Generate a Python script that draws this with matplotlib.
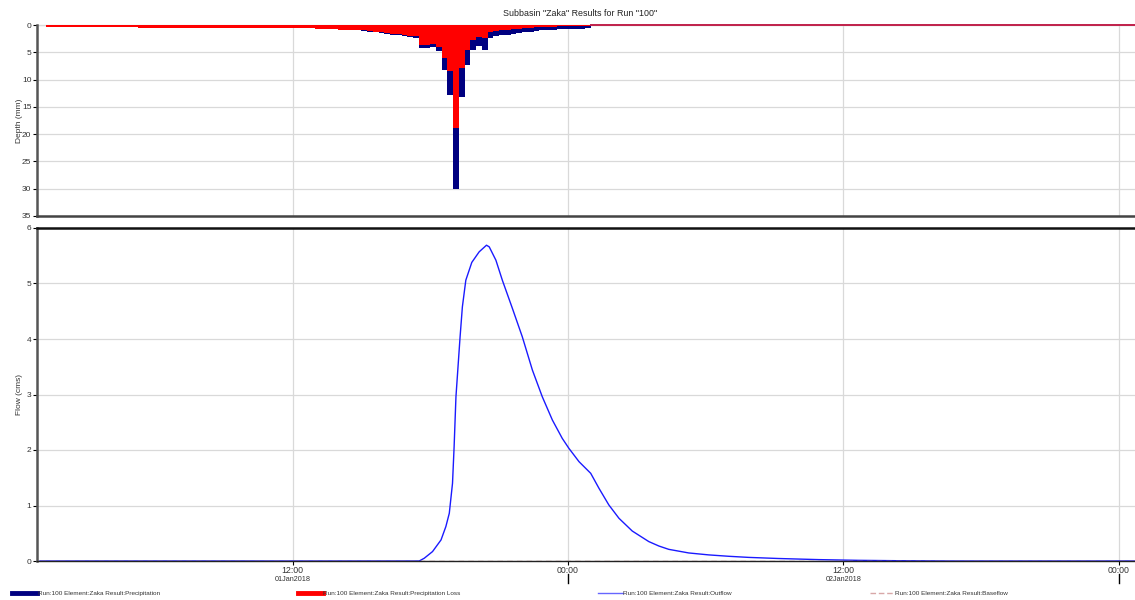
"""Subbasin hyetograph and hydrograph, HEC-HMS style."""

import matplotlib

matplotlib.use("Agg")
import matplotlib.pyplot as plt
from matplotlib.lines import Line2D
from matplotlib.transforms import blended_transform_factory

plt.rcParams["font.family"] = ["Liberation Sans", "DejaVu Sans"]

# time axis in hours since 01Jan2018 00:00
x_start = 0.87
x_end = 48.7
step = 0.25
bar_start = 1.25

precipitation = (
    [0.40] * 16 + [0.48] * 8 + [0.50] * 8 + [0.55] * 8 + [0.60] * 7
    + [0.72, 0.75, 0.78, 0.82, 0.85, 0.88]
    + [0.95, 1.0, 1.1, 1.2, 1.3, 1.5]
    + [1.65, 1.75, 1.9, 2.0, 2.2, 2.3]
    + [4.2, 4.3, 4.0, 4.8, 8.2, 12.8, 30.0, 13.2, 7.3, 4.6, 3.9, 4.5]
    + [2.4, 2.1, 1.9, 1.75, 1.6, 1.45, 1.35, 1.25, 1.1, 0.95, 0.9,
       0.85, 0.8, 0.75, 0.72, 0.7, 0.65, 0.55]
)
precipitation_loss = (
    [0.40] * 16 + [0.48] * 8 + [0.50] * 8 + [0.55] * 8 + [0.60] * 7
    + [0.72, 0.75, 0.78, 0.82, 0.85, 0.88]
    + [0.9, 0.95, 1.0, 1.1, 1.2, 1.35]
    + [1.5, 1.6, 1.7, 1.8, 1.95, 2.05]
    + [3.6, 3.6, 3.4, 4.0, 6.0, 8.5, 18.9, 7.9, 4.5, 2.8, 2.2, 2.3]
    + [1.3, 1.1, 0.95, 0.85, 0.75, 0.65, 0.6, 0.52, 0.45, 0.4, 0.35,
       0.3, 0.27, 0.24, 0.2, 0.18, 0.15, 0.12]
)
bar_times = [bar_start + step * i for i in range(len(precipitation))]

outflow_hours = [
    1.0, 16.65, 17.52, 17.74, 18.10, 18.47, 18.68, 18.83, 18.97, 19.04,
    19.12, 19.19, 19.30, 19.40, 19.55, 19.81, 20.13, 20.45, 20.57, 20.86,
    21.14, 21.58, 22.01, 22.45, 22.88, 23.32, 23.75, 24.04, 24.48, 24.99,
    25.35, 25.78, 26.22, 26.80, 27.52, 27.96, 28.39, 29.26, 30.13, 31.0,
    31.87, 33.17, 34.91, 36.65, 38.4, 40.6, 49.0,
]
outflow_cms = [
    0.0, 0.0, 0.0, 0.05, 0.17, 0.38, 0.62, 0.86, 1.40, 2.06,
    2.96, 3.38, 4.04, 4.58, 5.06, 5.38, 5.57, 5.69, 5.66, 5.42,
    5.06, 4.55, 4.04, 3.44, 2.96, 2.54, 2.21, 2.03, 1.79, 1.58,
    1.31, 1.01, 0.77, 0.54, 0.35, 0.27, 0.21, 0.145, 0.11, 0.085,
    0.065, 0.045, 0.025, 0.012, 0.005, 0.0, 0.0,
]
baseflow_hours = [1.0, 49.0]
baseflow_cms = [0.0, 0.0]

xtick_hours = [12, 24, 36, 48]
xtick_labels = ["12:00", "00:00", "12:00", "00:00"]
date_hours = [12, 36]
date_labels = ["01Jan2018", "02Jan2018"]
day_hours = [24, 48]

labels = [
    "Run:100 Element:Zaka Result:Precipitation",
    "Run:100 Element:Zaka Result:Precipitation Loss",
    "Run:100 Element:Zaka Result:Outflow",
    "Run:100 Element:Zaka Result:Baseflow",
]

NAVY = "#000080"
RED = "#ff0000"
BLUE = "#1a1aff"
BASE = "#c98f8f"
GRID = "#d9d9d9"
TEXT = "#333333"

fig = plt.figure(figsize=(11.35, 6.0), dpi=100)
ax_top = fig.add_axes([0.0326, 0.64, 0.9674, 0.3183])
ax_bot = fig.add_axes([0.0326, 0.065, 0.9674, 0.555])

# hyetograph
ax_top.bar(bar_times, precipitation, width=step, align="edge", color=NAVY, linewidth=0)
ax_top.bar(bar_times, precipitation_loss, width=step, align="edge", color=RED, linewidth=0)
loss_end = bar_times[-1] + step
ax_top.plot([loss_end, x_end], [0, 0], color="#c0204a", lw=1.4, clip_on=False, zorder=5)
ax_top.set_ylim(35, 0)
ax_top.set_yticks(range(0, 36, 5))
ax_top.set_ylabel("Depth (mm)", fontsize=6, color=TEXT, labelpad=-0.5)

# hydrograph
ax_bot.plot(outflow_hours, outflow_cms, color=BLUE, lw=1.0)
ax_bot.plot(baseflow_hours, baseflow_cms, color=BASE, lw=1.0, ls=(0, (4, 3)))
ax_bot.plot(baseflow_hours, baseflow_cms, color="#5a1010", lw=0.6, ls=(0, (3, 4)))
ax_bot.set_ylim(0, 6)
ax_bot.set_yticks(range(0, 7))
ax_bot.set_ylabel("Flow (cms)", fontsize=6, color=TEXT, labelpad=3)

for ax in (ax_top, ax_bot):
    ax.set_xlim(x_start, x_end)
    ax.set_xticks(xtick_hours)
    ax.grid(True, color=GRID, lw=0.9)
    ax.set_axisbelow(True)
    ax.tick_params(axis="y", labelsize=6, labelcolor=TEXT, length=3, width=0.8, pad=1)
    ax.spines["right"].set_visible(False)
    ax.spines["left"].set_color("#555555")
    ax.spines["left"].set_linewidth(1.8)

ax_top.tick_params(axis="x", length=0, labelbottom=False)
ax_top.spines["top"].set_color("#888888")
ax_top.spines["top"].set_linewidth(0.8)
ax_top.spines["top"].set_zorder(0.5)
ax_top.spines["bottom"].set_color("#444444")
ax_top.spines["bottom"].set_linewidth(1.8)

ax_bot.set_xticklabels(xtick_labels)
ax_bot.tick_params(axis="x", labelsize=6.3, labelcolor=TEXT, length=3, width=0.8, pad=0.5)
ax_bot.spines["top"].set_color("#111111")
ax_bot.spines["top"].set_linewidth(1.8)
ax_bot.spines["bottom"].set_color("#222222")
ax_bot.spines["bottom"].set_linewidth(1.0)

trans = blended_transform_factory(ax_bot.transData, ax_bot.transAxes)
for hour in day_hours:
    ax_bot.plot([hour, hour], [-0.039, -0.066], color="black", lw=1.0,
                transform=trans, clip_on=False)
for hour, date in zip(date_hours, date_labels):
    ax_bot.text(hour, -0.056, date, transform=trans, ha="center", va="center",
                fontsize=5.2, color=TEXT)

fig.text(0.511, 0.978, 'Subbasin "Zaka" Results for Run "100"', ha="center",
         va="center", fontsize=6.4, color="#222222")

handles = [
    Line2D([], [], color=NAVY, lw=3.5),
    Line2D([], [], color=RED, lw=3.5),
    Line2D([], [], color="#6666ff", lw=1.0),
    Line2D([], [], color="#d8a8a8", lw=1.0, ls=(0, (4, 2))),
]
fig.legend(handles, labels, loc="lower left", bbox_to_anchor=(0.011, 0.006, 0.877, 0.03),
           ncol=4, mode="expand", frameon=False, fontsize=4.6, handlelength=3.9,
           handletextpad=0.05, borderpad=0, borderaxespad=0, labelcolor=TEXT)

fig.savefig("out.png", dpi=100)
